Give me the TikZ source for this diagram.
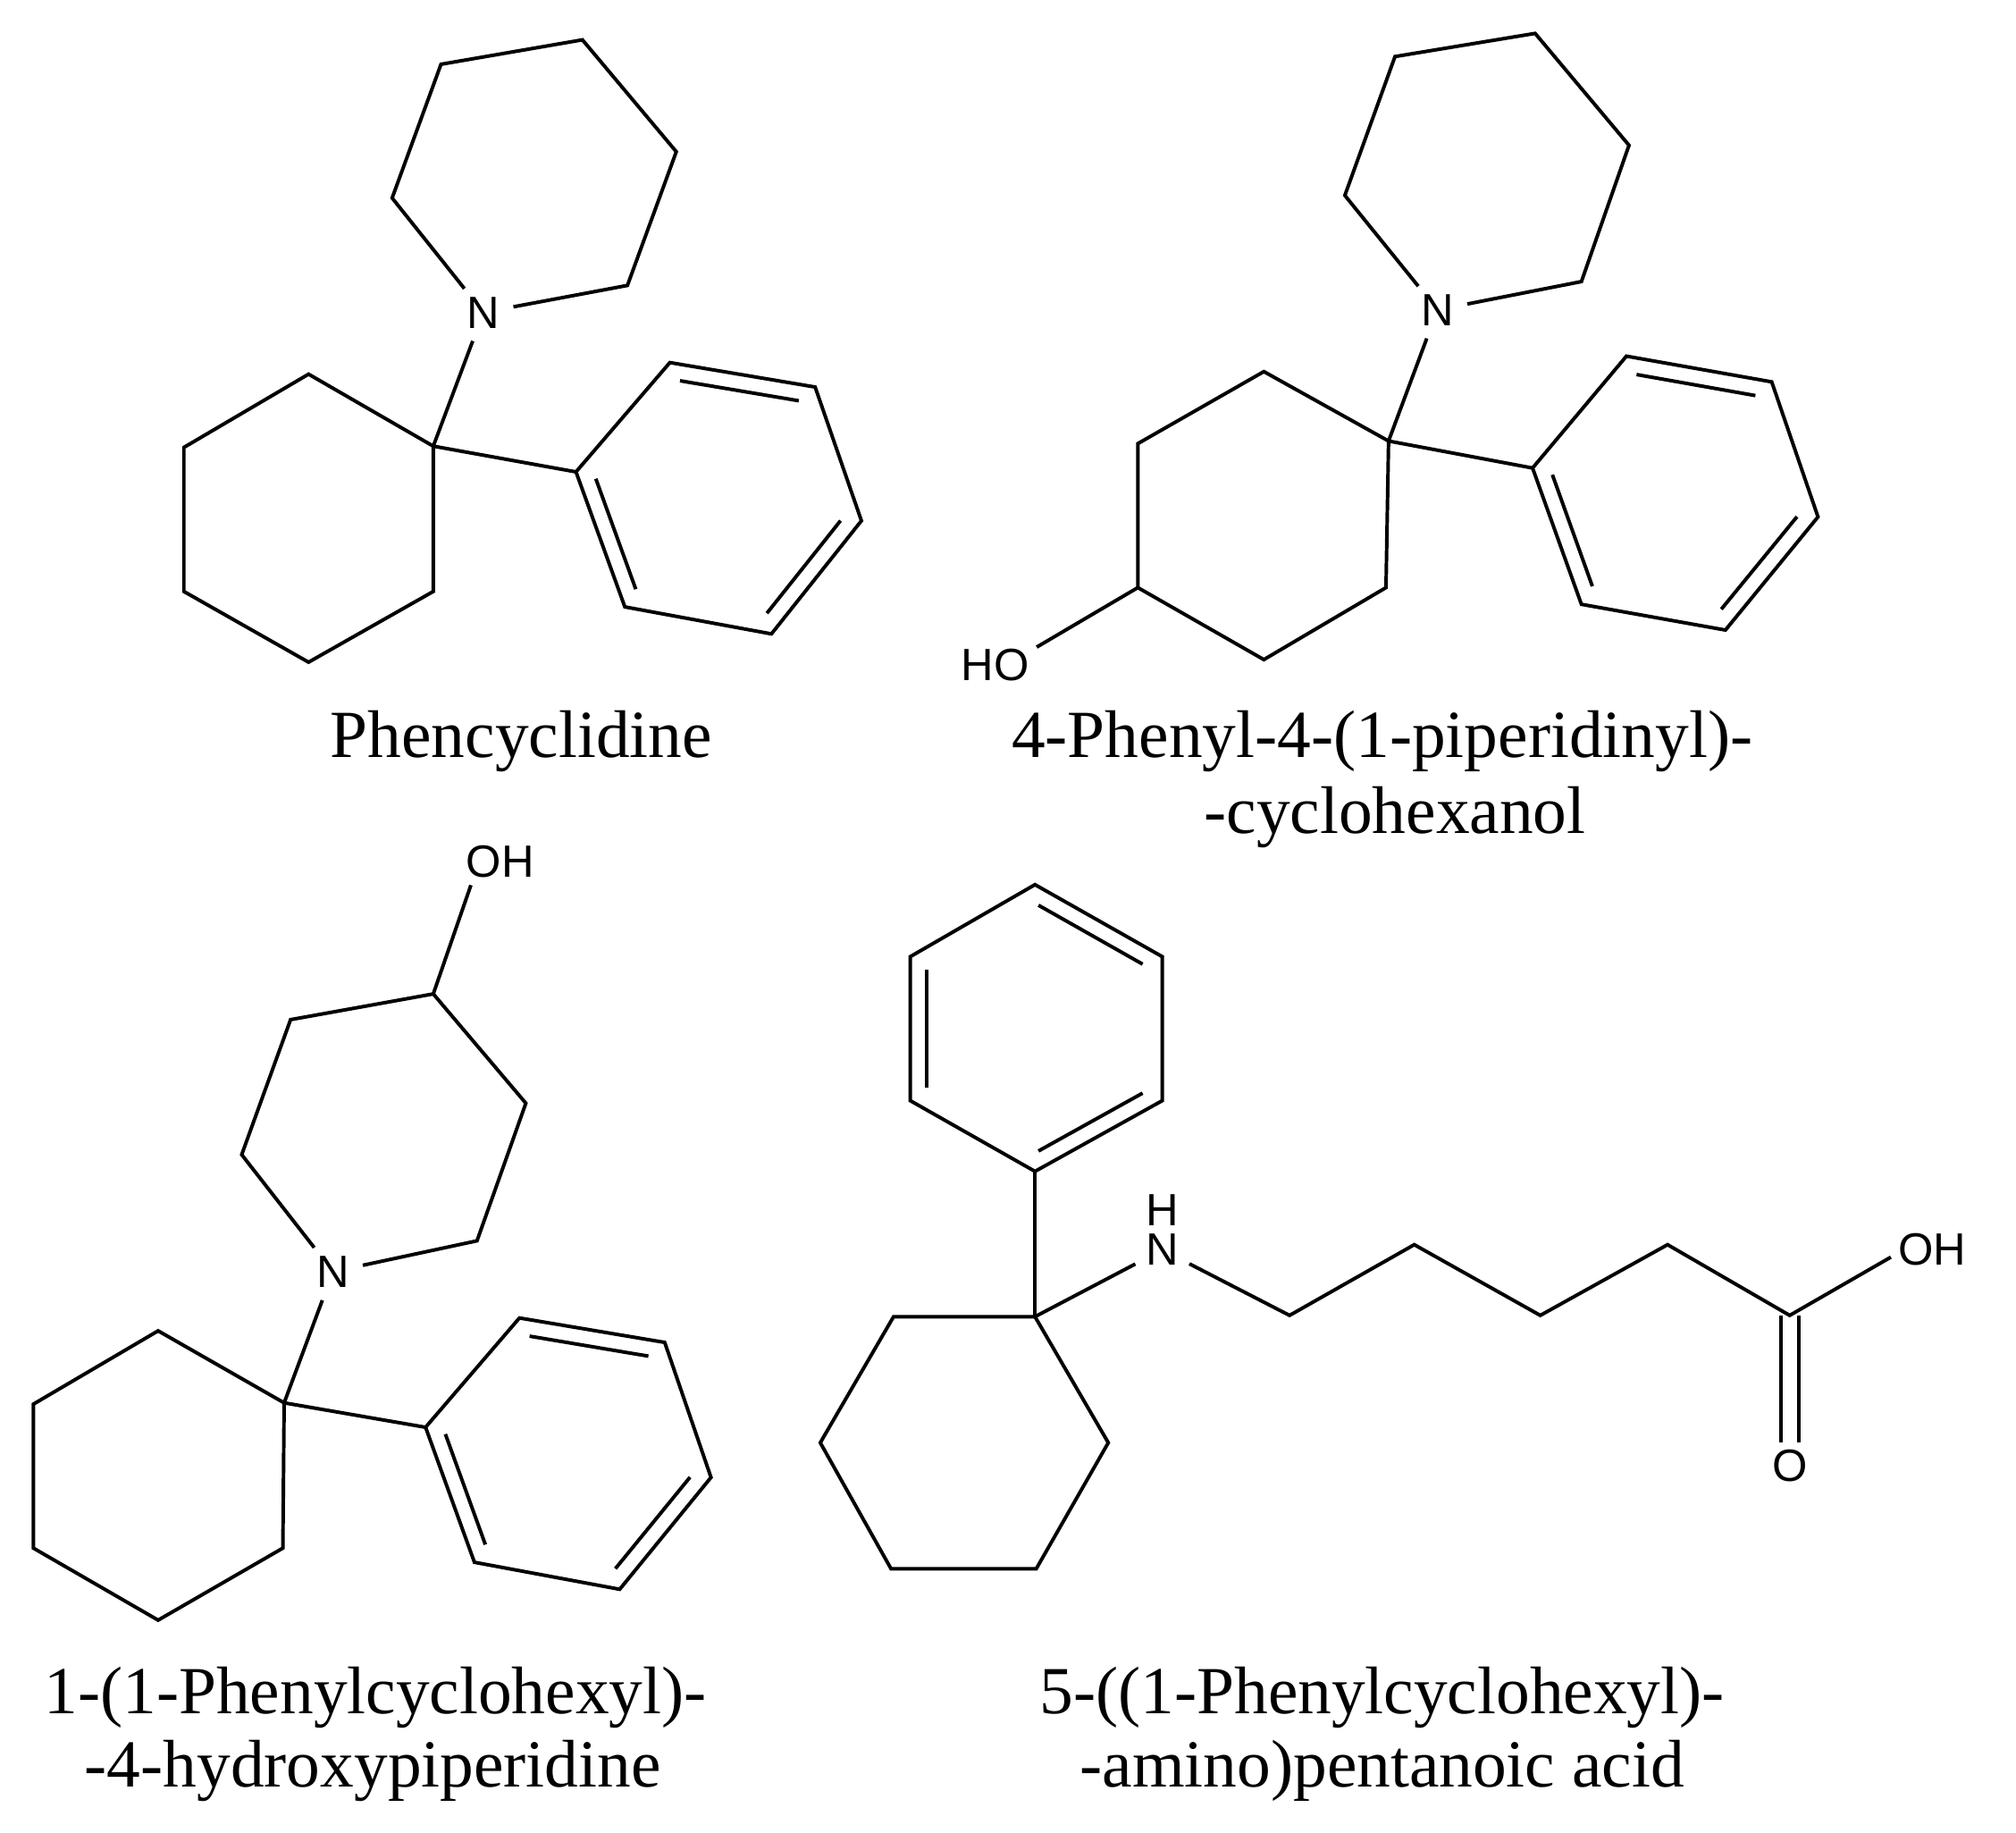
\documentclass[tikz,border=0pt]{standalone}
\usepackage{fontspec}
\setmainfont{Liberation Serif}
\newfontfamily\atomfont{Liberation Sans}
\usetikzlibrary{calc}
\tikzset{
  bond/.style={line width=0.78pt,black},
  atom/.style={circle,inner sep=0pt,minimum size=0.46cm,font=\atomfont\fontsize{10}{12}\selectfont},
  group/.style={rectangle,inner sep=1.5pt,font=\atomfont\fontsize{10}{12}\selectfont},
  molname/.style={anchor=base,inner sep=0pt,font=\fontsize{14.9}{18}\selectfont}
}
\newcommand{\innerbond}[3]{\draw[bond] ($(#1)!.03!(#2)!.13!(#3)$) -- ($(#2)!.03!(#1)!.13!(#3)$);}
\begin{document}
\begin{tikzpicture}[x=0.01cm,y=-0.01cm]
\useasboundingbox (0,0) rectangle (1568,1425.5);

% Phencyclidine
\node[atom] (an) at (376,243) {N};
\coordinate (ap1) at (305,154); \coordinate (ap2) at (343,50); \coordinate (ap3) at (453,31);
\coordinate (ap4) at (526,118); \coordinate (ap5) at (488,222);
\draw[bond] (an) -- (ap1) -- (ap2) -- (ap3) -- (ap4) -- (ap5) -- (an);
\coordinate (ac1) at (337,347); \coordinate (ac2) at (240,291); \coordinate (ac3) at (143,348);
\coordinate (ac4) at (143,460); \coordinate (ac5) at (240,515); \coordinate (ac6) at (337,460);
\draw[bond] (ac1) -- (ac2) -- (ac3) -- (ac4) -- (ac5) -- (ac6) -- cycle;
\draw[bond] (ac1) -- (an);
\coordinate (ab1) at (448,367); \coordinate (ab2) at (521,282); \coordinate (ab3) at (634,301);
\coordinate (ab4) at (670,405); \coordinate (ab5) at (600,493); \coordinate (ab6) at (486,472);
\coordinate (abc) at (559,387);
\draw[bond] (ab1) -- (ab2) -- (ab3) -- (ab4) -- (ab5) -- (ab6) -- cycle;
\draw[bond] (ac1) -- (ab1);
\innerbond{ab2}{ab3}{abc}
\innerbond{ab4}{ab5}{abc}
\innerbond{ab6}{ab1}{abc}
\node[molname] (aname) at (405.5,589) {Phencyclidine};

% 4-Phenyl-4-(1-piperidinyl)-cyclohexanol
\node[atom] (bn) at (1118,241) {N};
\coordinate (bp1) at (1046,152); \coordinate (bp2) at (1085,44); \coordinate (bp3) at (1194,26);
\coordinate (bp4) at (1267,113); \coordinate (bp5) at (1230,219);
\draw[bond] (bn) -- (bp1) -- (bp2) -- (bp3) -- (bp4) -- (bp5) -- (bn);
\coordinate (bc1) at (1080,343); \coordinate (bc2) at (983,289); \coordinate (bc3) at (885,345);
\coordinate (bc4) at (885,457); \coordinate (bc5) at (983,513); \coordinate (bc6) at (1078,457);
\draw[bond] (bc1) -- (bc2) -- (bc3) -- (bc4) -- (bc5) -- (bc6) -- cycle;
\draw[bond] (bc1) -- (bn);
\node[group] (bo) at (774,517) {HO};
\draw[bond] (bc4) -- (bo.23);
\coordinate (bb1) at (1192,364); \coordinate (bb2) at (1265,277); \coordinate (bb3) at (1378,297);
\coordinate (bb4) at (1414,402); \coordinate (bb5) at (1342,490); \coordinate (bb6) at (1230,470);
\coordinate (bbc) at (1303,383);
\draw[bond] (bb1) -- (bb2) -- (bb3) -- (bb4) -- (bb5) -- (bb6) -- cycle;
\draw[bond] (bc1) -- (bb1);
\innerbond{bb2}{bb3}{bbc}
\innerbond{bb4}{bb5}{bbc}
\innerbond{bb6}{bb1}{bbc}
\node[molname] (bname) at (1075,589) {4-Phenyl-4-(1-piperidinyl)-};
\node[molname] (bnameb) at (1085,648) {-cyclohexanol};

% 1-(1-Phenylcyclohexyl)-4-hydroxypiperidine
\node[atom] (cn) at (259,989) {N};
\node[group] (co) at (389,670) {OH};
\coordinate (cp1) at (188,898); \coordinate (cp2) at (226,793); \coordinate (cp3) at (337,773);
\coordinate (cp4) at (409,858); \coordinate (cp5) at (371,965);
\draw[bond] (cn) -- (cp1) -- (cp2) -- (cp3) -- (cp4) -- (cp5) -- (cn);
\draw[bond] (cp3) -- (co.219);
\coordinate (cc1) at (221,1091); \coordinate (cc2) at (123,1035); \coordinate (cc3) at (26,1092);
\coordinate (cc4) at (26,1204); \coordinate (cc5) at (123,1260); \coordinate (cc6) at (220,1204);
\draw[bond] (cc1) -- (cc2) -- (cc3) -- (cc4) -- (cc5) -- (cc6) -- cycle;
\draw[bond] (cc1) -- (cn);
\coordinate (cb1) at (331,1110); \coordinate (cb2) at (404,1025); \coordinate (cb3) at (517,1044);
\coordinate (cb4) at (553,1149); \coordinate (cb5) at (482,1236); \coordinate (cb6) at (369,1215);
\coordinate (cbc) at (442,1130);
\draw[bond] (cb1) -- (cb2) -- (cb3) -- (cb4) -- (cb5) -- (cb6) -- cycle;
\draw[bond] (cc1) -- (cb1);
\innerbond{cb2}{cb3}{cbc}
\innerbond{cb4}{cb5}{cbc}
\innerbond{cb6}{cb1}{cbc}
\node[molname] (cname) at (292,1333) {1-(1-Phenylcyclohexyl)-};
\node[molname] (cnameb) at (290,1390) {-4-hydroxypiperidine};

% 5-((1-Phenylcyclohexyl)-amino)pentanoic acid
\coordinate (db1) at (805,911); \coordinate (db2) at (904,856); \coordinate (db3) at (904,744);
\coordinate (db4) at (805,688); \coordinate (db5) at (708,744); \coordinate (db6) at (708,856);
\coordinate (dbc) at (806,800);
\draw[bond] (db1) -- (db2) -- (db3) -- (db4) -- (db5) -- (db6) -- cycle;
\innerbond{db1}{db2}{dbc}
\innerbond{db3}{db4}{dbc}
\innerbond{db5}{db6}{dbc}
\coordinate (dc1) at (805,1024); \coordinate (dc2) at (695,1024); \coordinate (dc3) at (638,1122);
\coordinate (dc4) at (693,1220); \coordinate (dc5) at (806,1220); \coordinate (dc6) at (862,1122);
\draw[bond] (dc1) -- (dc2) -- (dc3) -- (dc4) -- (dc5) -- (dc6) -- cycle;
\draw[bond] (dc1) -- (db1);
\node[atom] (dn) at (904,972) {N};
\node[group] (dh) at (904,941) {H};
\coordinate (dk1) at (1003,1023); \coordinate (dk2) at (1100,968); \coordinate (dk3) at (1198,1023);
\coordinate (dk4) at (1297,968); \coordinate (dk5) at (1392,1023);
\node[group] (doh) at (1503,972) {OH};
\node[group] (do) at (1392,1140) {O};
\draw[bond] (dc1) -- (dn) -- (dk1) -- (dk2) -- (dk3) -- (dk4) -- (dk5) -- (doh.190);
\draw[bond] ([xshift=-0.07cm]dk5) -- ([xshift=-0.07cm]dk5 |- do.north);
\draw[bond] ([xshift=0.07cm]dk5) -- ([xshift=0.07cm]dk5 |- do.north);
\node[molname] (dname) at (1075,1333) {5-((1-Phenylcyclohexyl)-};
\node[molname] (dnameb) at (1075,1390) {-amino)pentanoic acid};
\end{tikzpicture}
\end{document}
